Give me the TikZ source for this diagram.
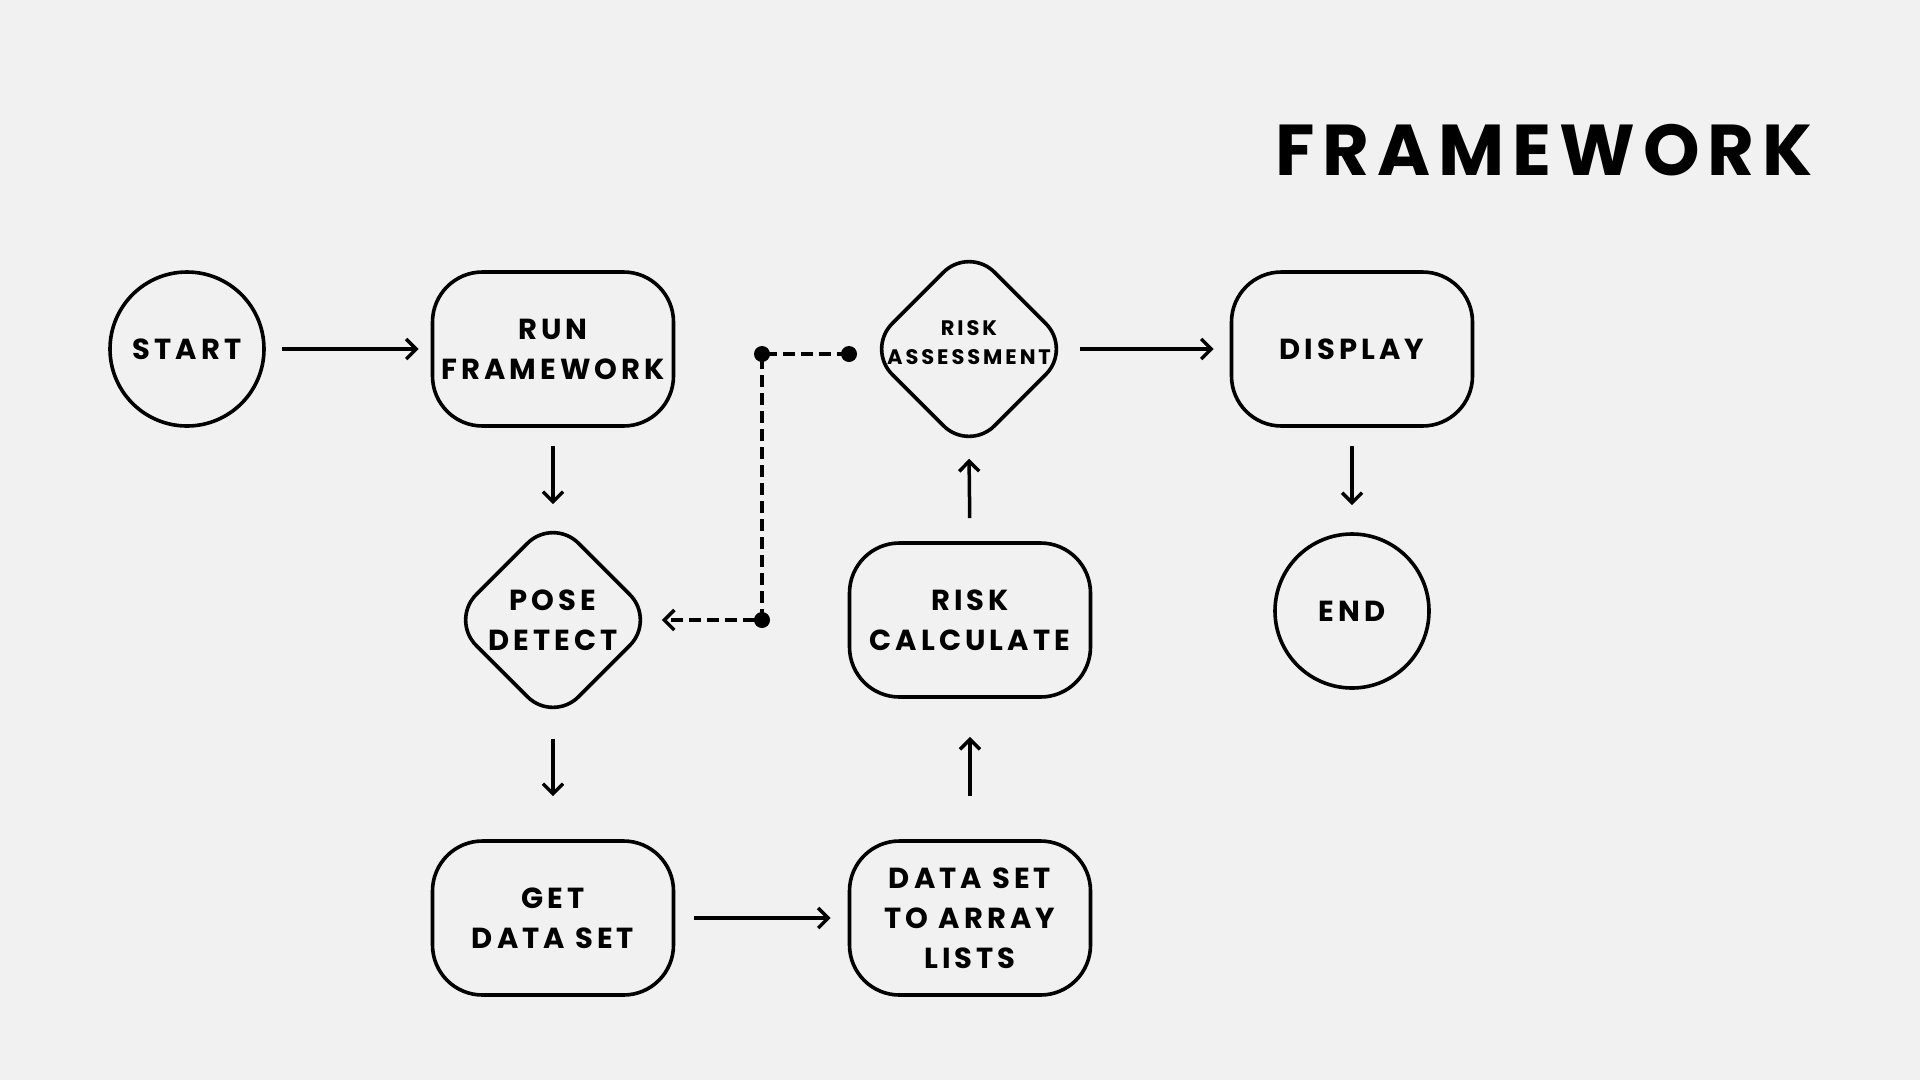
\documentclass[tikz,border=0pt]{standalone}
\usepackage{fontspec}
\setmainfont{Poppins}
\newfontfamily\popfont{Poppins}[LetterSpace=14]
\newfontfamily\titlefont{Poppins}[LetterSpace=11]
\usetikzlibrary{arrows.meta,shapes.geometric}
\definecolor{bg}{HTML}{F1F1F1}
\tikzset{
  box/.style={draw=black, line width=3.6pt, rectangle, rounded corners=50pt, minimum width=241pt, minimum height=154pt, inner sep=0pt},
  roundnode/.style={draw=black, line width=3.6pt, circle, minimum size=154pt, inner sep=0pt},
  dia/.style={draw=black, line width=3.6pt, diamond, aspect=1, minimum size=206pt, rounded corners=36pt, inner sep=0pt},
  lbl/.style={align=center, inner sep=0pt, font=\popfont\bfseries\fontsize{29}{40}\selectfont},
  smalllbl/.style={align=center, inner sep=0pt, font=\popfont\bfseries\fontsize{21}{29}\selectfont},
  conn/.style={line width=3.5pt, -{Straight Barb[length=10pt,width=20pt,line width=3.5pt]}},
  dconn/.style={line width=3.8pt, dash pattern=on 12pt off 6pt, -{Straight Barb[length=10pt,width=20pt,line width=3.5pt]}},
  dot/.style={circle, fill=black, minimum size=16pt, inner sep=0pt}
}
\begin{document}
\begin{tikzpicture}[x=1pt,y=-1pt]
\fill[bg] (0,0) rectangle (1920,1080);
\useasboundingbox (0,0) rectangle (1920,1080);

\node[font=\titlefont\bfseries\fontsize{72}{80}\selectfont, inner sep=0pt] (title) at (1544,150) {FRAMEWORK};

\node[roundnode] (start) at (187,349) {};
\node[lbl] at (start) {START};
\node[box] (run) at (553,349) {};
\node[lbl] at (run) {RUN\\FRAMEWORK};
\node[dia] (pose) at (553,620) {};
\node[lbl] at (pose) {POSE\\DETECT};
\node[box] (get) at (553,918) {};
\node[lbl] at (get) {GET\\DATA SET};
\node[box] (arr) at (970,918) {};
\node[lbl] at (arr) {DATA SET\\TO ARRAY\\LISTS};
\node[box] (calc) at (970,620) {};
\node[lbl] at (calc) {RISK\\CALCULATE};
\node[dia] (assess) at (969,349) {};
\node[smalllbl] at ([yshift=6pt]assess.center) {RISK\\ASSESSMENT};
\node[box] (disp) at (1352,349) {};
\node[lbl] at (disp) {DISPLAY};
\node[roundnode] (end) at (1352,611) {};
\node[lbl] at (end) {END};

\node[dot] (d1) at (849,354) {};
\node[dot] (d2) at (762,354) {};
\node[dot] (d3) at (762,620) {};

\draw[conn, shorten <=16pt, shorten >=12pt] (start.east) -- (run.west);
\draw[conn, shorten <=18pt, shorten >=11pt] (run.south) -- (pose.north);
\draw[conn, shorten <=14pt, shorten >=43pt] (pose.south) -- (get.north);
\draw[conn, shorten <=19pt, shorten >=17pt] (get.east) -- (arr.west);
\draw[conn, shorten <=43pt, shorten >=38pt] (arr.north) -- (calc.south);
\draw[conn, shorten <=23pt, shorten >=5pt] (calc.north) -- (assess.south);
\draw[conn, shorten <=6pt, shorten >=16pt] (assess.east) -- (disp.west);
\draw[conn, shorten <=18pt, shorten >=27pt] (disp.south) -- (end.north);

\draw[dconn, shorten >=4pt] (d1.center) -- (d2.center) -- (d3.center) -- (pose.east);
\end{tikzpicture}
\end{document}
